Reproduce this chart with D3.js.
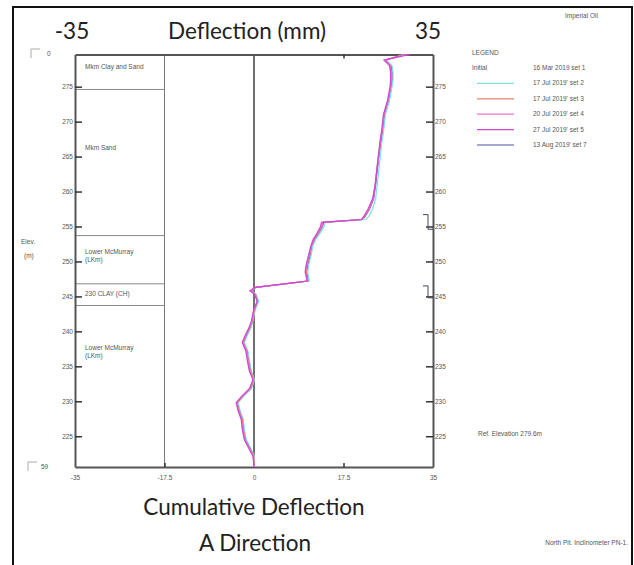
<!DOCTYPE html>
<html>
<head>
<meta charset="utf-8">
<script src="https://cdn.jsdelivr.net/npm/d3@7"></script>
<style>
  body { margin: 0; background: #fff; }
  svg { display: block; }
  .small { font-family: "Liberation Sans", Arial, sans-serif; font-size: 6.5px; fill: #555; }
  .big { font-family: Lato, "Open Sans", sans-serif; font-size: 22.5px; fill: #222; }
</style>
</head>
<body>
<div id="chart"></div>
<script>
// chart size
const width = 634;
const height = 565;

// elevations (m) of the readings, top to bottom
const elevations = [279.6, 279.2, 278.8, 278.0, 277.0, 276.0, 275.0, 273.0, 271.0, 269.0,
  267.0, 265.0, 263.0, 261.0, 259.0, 257.5, 256.5, 256.0, 255.6, 255.0,
  254.0, 253.2, 252.2, 251.0, 249.5, 248.5, 247.2, 246.3, 245.8, 245.3,
  244.3, 243.0, 241.5, 240.5, 239.3, 238.4, 237.2, 235.8, 234.3, 233.1,
  231.8, 230.8, 229.8, 228.6, 227.4, 226.0, 224.5, 223.1, 222.1, 220.6];

// cumulative deflection (mm) per reading set
const set2 = [29.2, 27.6, 25.9, 27.0, 27.2, 27.2, 27.0, 26.5, 25.7, 25.4, 25.0, 24.7, 24.4, 24.1, 23.8, 23.2, 22.5, 21.9, 13.9, 13.7, 12.9, 12.1, 11.5, 11.2, 10.7, 10.5, 10.8, 0.5, -0.5, 0.4, 0.9, 0.2, -0.2, -0.6, -1.4, -1.9, -1.2, -0.9, -0.5, 0.1, -0.5, -1.9, -3.1, -2.7, -2.1, -1.9, -1.5, -0.5, 0.1, 0.0];
const set3 = [29.5, 27.4, 25.7, 26.7, 26.9, 26.9, 26.7, 26.2, 25.4, 25.1, 24.7, 24.3, 24.0, 23.7, 23.3, 22.5, 21.7, 21.1, 13.5, 13.3, 12.5, 11.8, 11.2, 10.9, 10.4, 10.2, 10.5, 0.3, -0.6, 0.3, 0.7, 0.1, -0.3, -0.8, -1.6, -2.1, -1.4, -1.1, -0.7, 0.0, -0.7, -2.1, -3.3, -2.9, -2.3, -2.1, -1.7, -0.7, 0.0, 0.0];
const set4 = [30.0, 27.6, 25.6, 26.6, 26.8, 26.8, 26.7, 26.2, 25.4, 25.1, 24.7, 24.4, 24.0, 23.7, 23.3, 22.5, 21.6, 21.1, 13.4, 13.2, 12.4, 11.7, 11.2, 10.8, 10.3, 10.1, 10.5, 0.3, -0.7, 0.2, 0.7, 0.0, -0.4, -0.9, -1.7, -2.2, -1.5, -1.2, -0.8, -0.1, -0.8, -2.2, -3.4, -3.0, -2.4, -2.2, -1.8, -0.8, -0.1, 0.0];
const set5 = [30.5, 27.8, 25.4, 26.5, 26.7, 26.7, 26.6, 26.1, 25.3, 25.0, 24.6, 24.3, 24.0, 23.7, 23.2, 22.3, 21.5, 21.0, 13.2, 13.0, 12.3, 11.6, 11.1, 10.7, 10.2, 10.0, 10.4, 0.2, -0.8, 0.1, 0.6, -0.1, -0.5, -1.0, -1.8, -2.3, -1.6, -1.3, -0.9, -0.2, -0.9, -2.3, -3.5, -3.1, -2.5, -2.3, -1.9, -0.9, -0.2, 0.0];
const set7 = [29.0, 27.5, 25.8, 26.8, 27.0, 27.0, 26.8, 26.3, 25.5, 25.2, 24.8, 24.4, 24.1, 23.8, 23.4, 22.6, 21.8, 21.2, 13.6, 13.4, 12.6, 11.9, 11.3, 11.0, 10.5, 10.3, 10.6, 0.4, -0.6, 0.3, 0.8, 0.1, -0.3, -0.7, -1.5, -2.0, -1.3, -1.0, -0.6, 0.0, -0.6, -2.0, -3.2, -2.8, -2.2, -2.0, -1.6, -0.6, 0.0, 0.0];

// legend entries
const legendNames = ["16 Mar 2019 set 1", "17 Jul 2019' set 2", "17 Jul 2019' set 3", "20 Jul 2019' set 4", "27 Jul 2019' set 5", "13 Aug 2019' set 7"];
const seriesData = [null, set2, set3, set4, set5, set7];
const seriesColors = [null, "#7fe0e0", "#e8806e", "#f070d0", "#d046d8", "#55509e"];
const drawOrder = [5, 1, 2, 3, 4];

// ticks
const elevTicks = [225, 230, 235, 240, 245, 250, 255, 260, 265, 270, 275];
const deflTicks = [-35, -17.5, 0, 17.5, 35];

// soil layers: boundaries (m) and names
const layerTops = [279.6, 274.6, 253.7, 246.8, 243.7];
const layerNames = [["Mkm Clay and Sand"], ["Mkm Sand"], ["Lower McMurray", "(LKm)"], ["230 CLAY (CH)"], ["Lower McMurray", "(LKm)"]];
const layerLabelElev = [277.5, 265.9, 251.0, 245.0, 237.3];

// bracket marks on the right axis (top, bottom elevations)
const brackets = [[256.7, 254.6], [246.5, 244.8]];

const svg = d3.select("#chart")
  .append("svg")
  .attr("width", width)
  .attr("height", height);

// outer frame
svg.append("rect")
  .attr("x", 13).attr("y", 7)
  .attr("width", 619).attr("height", 570)
  .attr("fill", "none")
  .attr("stroke", "#111")
  .attr("stroke-width", 2);

// scales
const x = d3.scaleLinear().domain([-35, 35]).range([75, 433]);
const y = d3.scaleLinear().domain([220.6, 279.6]).range([467, 54.5]);

// -17.5 and 0 lines
svg.append("line")
  .attr("x1", x(-17.5)).attr("x2", x(-17.5))
  .attr("y1", y(279.6)).attr("y2", y(220.6))
  .attr("stroke", "#777").attr("stroke-width", 1);
svg.append("line")
  .attr("x1", x(0)).attr("x2", x(0))
  .attr("y1", y(279.6)).attr("y2", y(220.6))
  .attr("stroke", "#111").attr("stroke-width", 1.2);

// layer boundaries inside the left column
svg.selectAll(".layer")
  .data(layerTops.slice(1))
  .enter()
  .append("line")
    .attr("class", "layer")
    .attr("x1", x(-35)).attr("x2", x(-17.5))
    .attr("y1", d => y(d)).attr("y2", d => y(d))
    .attr("stroke", "#888").attr("stroke-width", 1);

layerNames.forEach((lines, i) => {
  lines.forEach((t, j) => {
    svg.append("text")
      .attr("class", "small")
      .attr("x", x(-35) + 10)
      .attr("y", y(layerLabelElev[i]) + j * 8)
      .text(t);
  });
});

// axes
const leftAxis = svg.append("g")
  .attr("transform", `translate(${x(-35)},0)`)
  .call(d3.axisLeft(y).tickValues(elevTicks).tickSizeInner(-7).tickSizeOuter(0).tickPadding(2));
const rightAxis = svg.append("g")
  .attr("transform", `translate(${x(35)},0)`)
  .call(d3.axisRight(y).tickValues(elevTicks).tickSizeInner(-7).tickSizeOuter(0).tickPadding(2));
const bottomAxis = svg.append("g")
  .attr("transform", `translate(0,${y(220.6)})`)
  .call(d3.axisBottom(x).tickValues(deflTicks).tickFormat(d => String(d)).tickSizeInner(-4).tickSizeOuter(0).tickPadding(8));
const topAxis = svg.append("g")
  .attr("transform", `translate(0,${y(279.6)})`)
  .call(d3.axisTop(x).tickValues([17.5]).tickFormat("").tickSizeInner(-4).tickSizeOuter(0));

[leftAxis, rightAxis, bottomAxis, topAxis].forEach(g => {
  g.select(".domain").attr("stroke", "#555").attr("stroke-width", 2);
  g.selectAll(".tick line").attr("stroke", "#333").attr("stroke-width", 1.5);
  g.selectAll(".tick text")
    .attr("font-family", "Liberation Sans, Arial, sans-serif")
    .attr("font-size", "6.5px")
    .attr("fill", "#555");
});
bottomAxis.selectAll(".tick").filter(d => d === -35 || d === 0 || d === 35).select("line").remove();

// brackets on right axis
brackets.forEach(b => {
  svg.append("path")
    .attr("d", `M${x(35) - 10},${y(b[0])} H${x(35) - 5} V${y(b[1])} H${x(35)}`)
    .attr("fill", "none")
    .attr("stroke", "#446")
    .attr("stroke-width", 1);
});

// profile lines
const line = d3.line()
  .x(d => x(d[0]))
  .y(d => y(d[1]));

drawOrder.forEach(i => {
  svg.append("path")
    .datum(seriesData[i].map((v, k) => [v, elevations[k]]))
    .attr("fill", "none")
    .attr("stroke", seriesColors[i])
    .attr("stroke-width", 1.2)
    .attr("d", line);
});

// big titles
svg.append("text").attr("class", "big").attr("x", 72).attr("y", 39).attr("text-anchor", "middle").text("-35");
svg.append("text").attr("class", "big").attr("x", 247).attr("y", 39).attr("text-anchor", "middle").text("Deflection (mm)");
svg.append("text").attr("class", "big").attr("x", 428).attr("y", 39).attr("text-anchor", "middle").text("35");
svg.append("text").attr("class", "big").attr("x", 254).attr("y", 515).attr("text-anchor", "middle").text("Cumulative Deflection");
svg.append("text").attr("class", "big").attr("x", 255).attr("y", 551).attr("text-anchor", "middle").text("A Direction");

// left labels and small boxes
svg.append("text").attr("class", "small").attr("x", 21).attr("y", 244).text("Elev.");
svg.append("text").attr("class", "small").attr("x", 24).attr("y", 258).text("(m)");
svg.append("path").attr("d", "M31,58 V49 H40").attr("fill", "none").attr("stroke", "#aaa").attr("stroke-width", 1);
svg.append("text").attr("class", "small").attr("x", 47).attr("y", 56).text("0");
svg.append("path").attr("d", "M28,471 V462 H37").attr("fill", "none").attr("stroke", "#aaa").attr("stroke-width", 1);
svg.append("text").attr("class", "small").attr("x", 41).attr("y", 469).text("59");

// legend
svg.append("text").attr("class", "small").attr("x", 565).attr("y", 18).text("Imperial Oil");
svg.append("text").attr("class", "small").attr("x", 472).attr("y", 55).text("LEGEND");
svg.append("text").attr("class", "small").attr("x", 472).attr("y", 70).text("Initial");

const legendY = d3.scaleLinear().domain([0, 5]).range([70, 147]);
legendNames.forEach((name, i) => {
  svg.append("text")
    .attr("class", "small")
    .attr("x", 533)
    .attr("y", legendY(i))
    .text(name);
  if (seriesColors[i]) {
    svg.append("line")
      .attr("x1", 477).attr("x2", 514)
      .attr("y1", legendY(i) - 2).attr("y2", legendY(i) - 2)
      .attr("stroke", seriesColors[i])
      .attr("stroke-width", 1.2);
  }
});

svg.append("text").attr("class", "small").attr("x", 478).attr("y", 436).text("Ref. Elevation 279.6m");
svg.append("text").attr("class", "small").attr("x", 628).attr("y", 545).attr("text-anchor", "end").text("North Pit. Inclinometer PN-1.");
</script>
</body>
</html>
